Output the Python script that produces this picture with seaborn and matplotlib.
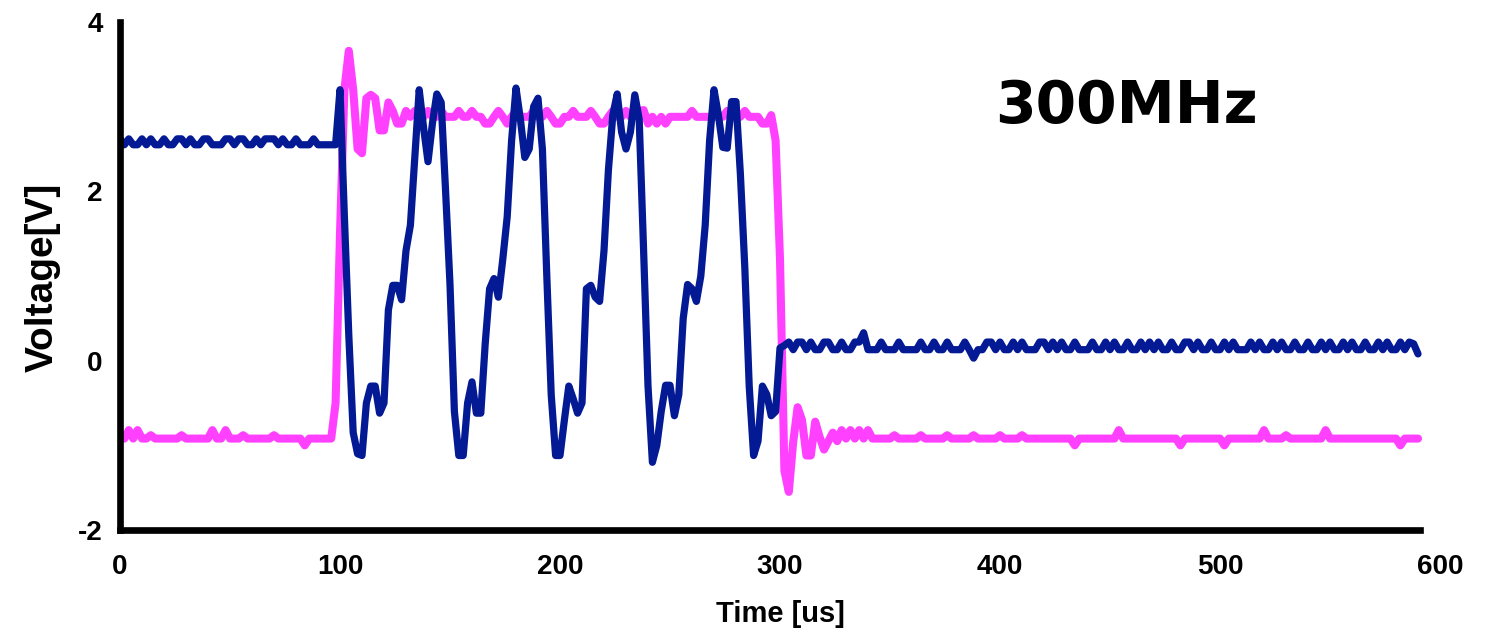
import numpy as np
import pandas as pd
import matplotlib
matplotlib.use("Agg")
import matplotlib.pyplot as plt
import seaborn as sns

# ---------------- data (2 us sampling) ----------------
time_step_us = 2
t_end_us = 590

blue_before = [2.62, 2.55, 2.62, 2.55, 2.55, 2.62, 2.55, 2.62, 2.55, 2.55,
               2.62, 2.55, 2.55, 2.62, 2.62, 2.55, 2.62, 2.55, 2.55, 2.62,
               2.62, 2.55, 2.55, 2.55, 2.62, 2.62, 2.55, 2.62, 2.62, 2.55,
               2.55, 2.62, 2.55, 2.62, 2.62, 2.62, 2.55, 2.62, 2.55, 2.55,
               2.62, 2.55, 2.55, 2.55, 2.62, 2.55, 2.55, 2.55, 2.55, 2.55]
blue_burst = [3.2, 1.7, 0.3, -0.85, -1.1, -1.12, -0.5, -0.3, -0.3, -0.62,
              -0.5, 0.6, 0.89, 0.89, 0.72, 1.3, 1.6, 2.4, 3.2, 2.75,
              2.35, 2.8, 3.15, 3.05, 2.0, 0.9, -0.6, -1.12, -1.12, -0.5,
              -0.25, -0.62, -0.62, 0.2, 0.85, 0.97, 0.75, 1.2, 1.7, 2.6,
              3.22, 2.85, 2.4, 2.5, 3.0, 3.1, 2.5, 1.0, -0.4, -1.12,
              -1.12, -0.7, -0.3, -0.45, -0.62, -0.5, 0.85, 0.89, 0.75, 0.7,
              1.3, 2.25, 2.9, 3.15, 2.7, 2.5, 2.7, 3.14, 2.85, 1.3,
              -0.3, -1.2, -1.0, -0.6, -0.29, -0.29, -0.65, -0.4, 0.5, 0.9,
              0.85, 0.7, 1.0, 1.6, 2.6, 3.2, 2.9, 2.52, 2.51, 3.06,
              3.06, 2.2, 1.1, -0.3, -1.12, -0.95, -0.3, -0.4, -0.65, -0.6,
              0.15]
blue_after = [0.18, 0.22, 0.13, 0.22, 0.22, 0.13, 0.22, 0.13, 0.13, 0.22,
              0.22, 0.13, 0.13, 0.22, 0.13, 0.13, 0.22, 0.22, 0.33, 0.13,
              0.13, 0.13, 0.22, 0.13, 0.13, 0.13, 0.22, 0.13, 0.13, 0.13,
              0.13, 0.22, 0.13, 0.13, 0.22, 0.13, 0.13, 0.22, 0.13, 0.13,
              0.13, 0.22, 0.13, 0.03, 0.13, 0.13, 0.22, 0.22, 0.13, 0.22,
              0.13, 0.13, 0.22, 0.13, 0.22, 0.13, 0.13, 0.13, 0.22, 0.22,
              0.13, 0.22, 0.13, 0.22, 0.13, 0.13, 0.22, 0.13, 0.13, 0.13,
              0.22, 0.13, 0.13, 0.22, 0.13, 0.22, 0.13, 0.13, 0.22, 0.13,
              0.13, 0.22, 0.13, 0.22, 0.13, 0.22, 0.13, 0.13, 0.22, 0.13,
              0.13, 0.22, 0.22, 0.13, 0.22, 0.13, 0.13, 0.22, 0.13, 0.13,
              0.22, 0.13, 0.22, 0.13, 0.13, 0.13, 0.22, 0.13, 0.22, 0.13,
              0.13, 0.22, 0.13, 0.22, 0.13, 0.13, 0.22, 0.13, 0.13, 0.22,
              0.13, 0.13, 0.22, 0.13, 0.22, 0.13, 0.13, 0.22, 0.13, 0.22,
              0.13, 0.13, 0.22, 0.13, 0.13, 0.22, 0.13, 0.22, 0.13, 0.13,
              0.22, 0.13, 0.22, 0.20, 0.08]

pink_before = [-0.92, -0.92, -0.82, -0.92, -0.82, -0.92, -0.92, -0.88, -0.92, -0.92,
               -0.92, -0.92, -0.92, -0.92, -0.88, -0.92, -0.92, -0.92, -0.92, -0.92,
               -0.92, -0.82, -0.92, -0.92, -0.82, -0.92, -0.92, -0.92, -0.88, -0.92,
               -0.92, -0.92, -0.92, -0.92, -0.92, -0.88, -0.92, -0.92, -0.92, -0.92,
               -0.92, -0.92, -1.0, -0.92, -0.92, -0.92, -0.92, -0.92, -0.92]
pink_high = [-0.5, 1.5, 3.2, 3.66, 3.2, 2.5, 2.45, 3.1, 3.14, 3.1,
             2.72, 2.72, 3.05, 2.95, 2.8, 2.8, 2.95, 2.88, 2.95, 2.88,
             2.88, 2.95, 2.88, 2.88, 2.95, 2.88, 2.88, 2.88, 2.95, 2.88,
             2.88, 2.95, 2.88, 2.88, 2.8, 2.8, 2.88, 2.95, 2.88, 2.8,
             2.88, 2.95, 2.88, 2.88, 2.88, 2.95, 2.88, 2.88, 2.95, 2.88,
             2.8, 2.8, 2.88, 2.88, 2.95, 2.88, 2.88, 2.88, 2.95, 2.88,
             2.8, 2.8, 2.88, 2.95, 2.88, 2.88, 2.95, 2.88, 2.95, 2.95,
             2.96, 2.8, 2.88, 2.8, 2.88, 2.8, 2.88, 2.88, 2.88, 2.88,
             2.88, 2.95, 2.88, 2.88, 2.88, 2.88, 2.88, 2.88, 2.88, 2.95,
             2.88, 2.88, 2.88, 2.95, 2.88, 2.88, 2.88, 2.8, 2.8, 2.9,
             2.6, 1.2]
pink_after = [-1.3, -1.55, -0.96, -0.55, -0.7, -1.12, -1.12, -0.72, -0.9, -1.05,
              -0.95, -0.85, -0.95, -0.82, -0.92, -0.82, -0.92, -0.82, -0.92, -0.82,
              -0.92, -0.92, -0.92, -0.92, -0.92, -0.88, -0.92, -0.92, -0.92, -0.92,
              -0.92, -0.88, -0.92, -0.92, -0.92, -0.92, -0.92, -0.88, -0.92, -0.92,
              -0.92, -0.92, -0.92, -0.88, -0.92, -0.92, -0.92, -0.92, -0.92, -0.88,
              -0.92, -0.92, -0.92, -0.92, -0.88, -0.92, -0.92, -0.92, -0.92, -0.92,
              -0.92, -0.92, -0.92, -0.92, -0.92, -0.92, -1.0, -0.92, -0.92, -0.92,
              -0.92, -0.92, -0.92, -0.92, -0.92, -0.92, -0.82, -0.92, -0.92, -0.92,
              -0.92, -0.92, -0.92, -0.92, -0.92, -0.92, -0.92, -0.92, -0.92, -0.92,
              -1.0, -0.92, -0.92, -0.92, -0.92, -0.92, -0.92, -0.92, -0.92, -0.92,
              -1.0, -0.92, -0.92, -0.92, -0.92, -0.92, -0.92, -0.92, -0.92, -0.82,
              -0.92, -0.92, -0.92, -0.92, -0.88, -0.92, -0.92, -0.92, -0.92, -0.92,
              -0.92, -0.92, -0.92, -0.82, -0.92, -0.92, -0.92, -0.92, -0.92, -0.92,
              -0.92, -0.92, -0.92, -0.92, -0.92, -0.92, -0.92, -0.92, -0.92, -0.92,
              -1.0, -0.92, -0.92, -0.92, -0.92]

x_ticks = [0, 100, 200, 300, 400, 500, 600]
y_ticks = [-2, 0, 2, 4]
title_text = "300MHz"
x_label = "Time [us]"
y_label = "Voltage[V]"

time_us = np.arange(0, t_end_us + 1, time_step_us)
blue_v = blue_before + blue_burst + blue_after
pink_v = pink_before + pink_high + pink_after
assert len(blue_v) == len(time_us) and len(pink_v) == len(time_us)

df = pd.DataFrame({"time": np.concatenate([time_us, time_us]),
                   "voltage": np.array(pink_v + blue_v),
                   "signal": ["pink"] * len(time_us) + ["blue"] * len(time_us)})

# ---------------- styling ----------------
sns.set_style("white")
plt.rcParams["font.family"] = ["Liberation Sans", "DejaVu Sans"]
plt.rcParams["font.weight"] = "bold"
plt.rcParams["text.color"] = "black"
plt.rcParams["axes.labelcolor"] = "black"
plt.rcParams["xtick.color"] = "black"
plt.rcParams["ytick.color"] = "black"

BLUE = "#041A94"
PINK = "#FF40FF"

fig = plt.figure(figsize=(14.98, 6.34), dpi=100)
ax = fig.add_axes([0.0801, 0.164, 0.8812, 0.8013])

sns.lineplot(data=df[df.signal == "pink"], x="time", y="voltage", ax=ax,
             color=PINK, linewidth=5.8, estimator=None, sort=False)
sns.lineplot(data=df[df.signal == "blue"], x="time", y="voltage", ax=ax,
             color=BLUE, linewidth=5.2, estimator=None, sort=False)

ax.set_xlim(0, 600)
ax.set_ylim(-2, 4)
ax.set_xticks(x_ticks)
ax.set_yticks(y_ticks)
ax.set_xticklabels([str(v) for v in x_ticks], fontsize=20, fontweight="bold",
                   color="black")
ax.set_yticklabels([str(v) for v in y_ticks], fontsize=20, fontweight="bold",
                   color="black")

for side in ["top", "right"]:
    ax.spines[side].set_visible(False)
for side in ["left", "bottom"]:
    ax.spines[side].set_linewidth(4.8)
    ax.spines[side].set_color("black")
ax.spines["bottom"].set_bounds(0, 591)
ax.spines["left"].set_bounds(-2, 4)

ax.tick_params(axis="both", direction="out", length=6.5, width=4.8, color="black")
ax.tick_params(axis="x", pad=11)
ax.tick_params(axis="y", pad=6)
ax.xaxis.get_major_ticks()[-1].tick1line.set_visible(False)

ax.set_xlabel(x_label, fontsize=21, fontweight="bold", color="black")
ax.xaxis.set_label_coords(0.5, -0.138)
ax.set_ylabel(y_label, fontsize=28, fontweight="bold", color="black")
ax.yaxis.set_label_coords(-0.045, 0.497)

fig.text(995 / 1498, (634 - 123) / 634, title_text, fontsize=42, color="black",
         fontweight="bold", family="DejaVu Sans", ha="left", va="baseline")

ax.grid(False)
fig.savefig("out.png", dpi=100, facecolor="white")
